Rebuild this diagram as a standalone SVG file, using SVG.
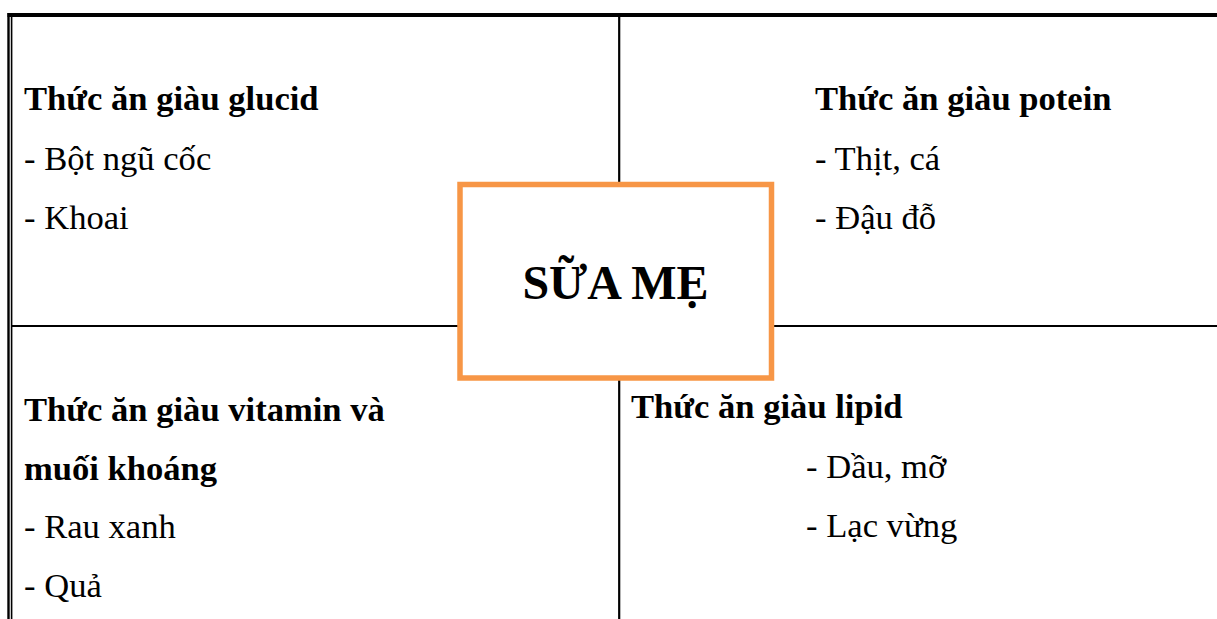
<svg xmlns="http://www.w3.org/2000/svg" width="1217" height="619" viewBox="0 0 1217 619">
<style>
.b{font-family:"Liberation Serif","Times New Roman",serif;font-size:34.6px;font-weight:bold;fill:#000}
.r{font-family:"Liberation Serif","Times New Roman",serif;font-size:34.6px;fill:#000}
.ln{stroke:#000;fill:none}
</style>
<rect width="1217" height="619" fill="#fff"/>
<g id="connectors">
<line class="ln" x1="7.5" y1="15" x2="1217" y2="15" stroke-width="4"/>
<line class="ln" x1="8.5" y1="13" x2="8.5" y2="619" stroke-width="2.4"/>
<line class="ln" x1="11.6" y1="17" x2="11.6" y2="619" stroke-width="1.6"/>
<line class="ln" x1="12" y1="326" x2="1217" y2="326" stroke-width="2.2"/>
<line class="ln" x1="619.2" y1="17" x2="619.2" y2="619" stroke-width="2.2"/>
</g>
<g id="glucid">
<text class="b" x="24" y="110">Thức ăn giàu glucid</text>
<text class="r" x="24" y="170">- Bột ngũ cốc</text>
<text class="r" x="24" y="229">- Khoai</text>
</g>
<g id="protein">
<text class="b" x="815" y="110">Thức ăn giàu potein</text>
<text class="r" x="815" y="170">- Thịt, cá</text>
<text class="r" x="815" y="229">- Đậu đỗ</text>
</g>
<g id="vitamin">
<text class="b" x="24" y="421">Thức ăn giàu vitamin và</text>
<text class="b" x="24" y="480">muối khoáng</text>
<text class="r" x="24" y="538">- Rau xanh</text>
<text class="r" x="24" y="597">- Quả</text>
</g>
<g id="lipid">
<text class="b" x="631" y="418">Thức ăn giàu lipid</text>
<text class="r" x="806" y="478">- Dầu, mỡ</text>
<text class="r" x="806" y="537">- Lạc vừng</text>
</g>
<g id="center">
<rect x="460" y="184.5" width="311.5" height="193.5" fill="#fff" stroke="#F79646" stroke-width="5.5"/>
<text x="615.5" y="299" text-anchor="middle" font-family="Liberation Serif,Times New Roman,serif" font-size="48" font-weight="bold">SỮA MẸ</text>
</g>
</svg>
